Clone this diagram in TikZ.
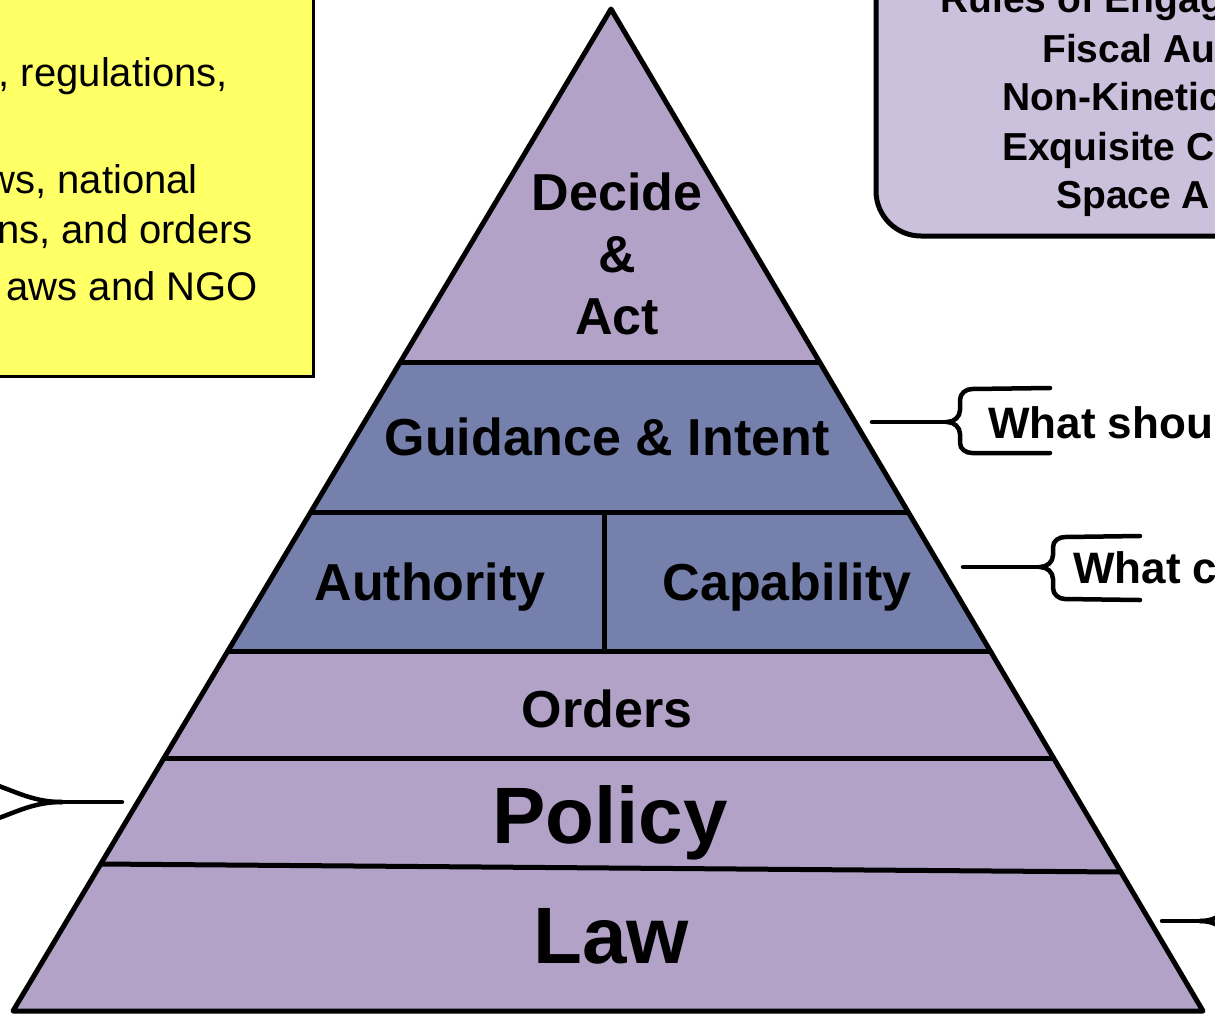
\documentclass[tikz,border=0pt]{standalone}
\usepackage{fontspec}
\setmainfont{Liberation Sans}
\definecolor{layerpurple}{RGB}{178,162,200}
\definecolor{bandblue}{RGB}{117,128,172}
\definecolor{notepurple}{RGB}{204,193,220}
\definecolor{noteyellow}{RGB}{255,255,102}
\tikzset{
    edge/.style={draw=black, line width=5pt, line join=round},
    tier/.style={font=\fontsize{52}{62}\selectfont\bfseries, inner sep=0pt, anchor=base},
    basetier/.style={font=\fontsize{80}{96}\selectfont\bfseries, inner sep=0pt, anchor=base},
    notetext/.style={font=\fontsize{40}{48}\selectfont, inner sep=0pt, anchor=base east},
    listtext/.style={font=\fontsize{39}{47}\selectfont\bfseries, inner sep=0pt, anchor=base west},
    bracetext/.style={font=\fontsize{44}{52}\selectfont\bfseries, inner sep=0pt, anchor=base west},
    brace/.style={draw=black, line width=4.5pt, line cap=round}
}

\begin{document}
\begin{tikzpicture}[x=1pt, y=-1pt]
  \useasboundingbox (0,0) rectangle (1215,1021);
  \clip (0,0) rectangle (1215,1021);

  % side notes
  \draw [fill=noteyellow, line width=3pt] (-20,-20) rectangle (313,376);
  \node [notetext] (regs) at (228,86) {, regulations,};
  \node [notetext] (natl) at (198,193) {ws, national};
  \node [notetext] (ords) at (253,243) {ns, and orders};
  \node [notetext] (ngo) at (258,300) {aws and NGO};

  \draw [fill=notepurple, line width=5pt, rounded corners=45pt] (876,-60) rectangle (1280,236);
  \node [listtext] (roe) at (940,12) {Rules of Engag};
  \node [listtext] (fiscal) at (1042,62) {Fiscal Au};
  \node [listtext] (nonkin) at (1002,110) {Non-Kinetic};
  \node [listtext] (exq) at (1002,160) {Exquisite C};
  \node [listtext] (space) at (1056,208) {Space A};

  % pyramid
  \coordinate (apex) at (611,9);
  \coordinate (bl) at (13,1011);
  \coordinate (br) at (1203,1011);
  \fill [layerpurple] (apex) -- (bl) -- (br) -- cycle;
  \fill [bandblue] (400.3,362) -- (819.6,362) -- (990.3,651) -- (227.9,651) -- cycle;
  \draw [edge] (400.3,362) -- (819.6,362);
  \draw [edge] (310.8,512) -- (908.2,512);
  \draw [edge] (227.9,651) -- (990.3,651);
  \draw [edge] (164,758) -- (1053.5,758);
  \draw [edge] (100.7,864) -- (1120.9,872);
  \draw [edge] (604,512) -- (604,651);
  \draw [edge] (apex) -- (bl) -- (br) -- cycle;

  \node [tier, align=center, anchor=center] (decide) at (617,254) {Decide\\\&\\Act};
  \node [tier] (guide) at (607,455) {Guidance \& Intent};
  \node [tier] (auth) at (430,600) {Authority};
  \node [tier] (capa) at (787,600) {Capability};
  \node [tier] (orders) at (607,727) {Orders};
  \node [basetier] (policy) at (610,843) {Policy};
  \node [basetier] (law) at (611,963) {Law};

  % braces
  \coordinate (gtip) at (947,422);
  \draw [brace] (872,422) -- (gtip);
  \draw [brace] (1050,388) -- (972,389) to[out=180,in=90] (960,400) -- (960,410)
    to[out=270,in=0] (gtip) to[out=0,in=90] (960,434) -- (960,443)
    to[out=270,in=180] (972,453) -- (1050,453);
  \node [bracetext] (should) at (988,438) {What shou};

  \coordinate (ctip) at (1040,567);
  \draw [brace] (963,567) -- (ctip);
  \draw [brace] (1140,536) -- (1065,537) to[out=180,in=90] (1053,547) -- (1053,555)
    to[out=270,in=0] (ctip) to[out=0,in=90] (1053,579) -- (1053,588)
    to[out=270,in=180] (1065,599) -- (1140,600);
  \node [bracetext] (could) at (1073,583) {What c};

  \coordinate (ptip) at (62,802);
  \draw [brace] (122,802) -- (ptip);
  \draw [brace] (ptip) to[out=180,in=-10] (-30,778);
  \draw [brace] (ptip) to[out=180,in=10] (-30,826);

  \coordinate (ltip) at (1200,921);
  \draw [brace] (1162,921) -- (ltip);
  \draw [brace] (ltip) to[out=0,in=190] (1245,906);
  \draw [brace] (ltip) to[out=0,in=170] (1245,936);
\end{tikzpicture}
\end{document}
